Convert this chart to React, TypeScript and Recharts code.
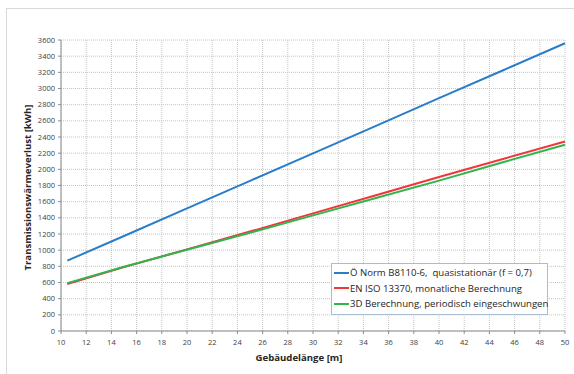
import React from "react";
import { LineChart, Line, XAxis, YAxis, CartesianGrid, Label } from "recharts";

const lengths = [10.5, 15, 20, 25, 30, 35, 40, 45, 50];
const oNorm = [870, 1175, 1517, 1858, 2198, 2538, 2880, 3220, 3560];
const enIso = [580, 790, 1010, 1230, 1455, 1680, 1905, 2125, 2345];
const threeD = [592, 795, 1005, 1215, 1430, 1645, 1860, 2085, 2305];

const xTicks = [10, 12, 14, 16, 18, 20, 22, 24, 26, 28, 30, 32, 34, 36, 38, 40, 42, 44, 46, 48, 50];
const yTicks = [0, 200, 400, 600, 800, 1000, 1200, 1400, 1600, 1800, 2000, 2200, 2400, 2600, 2800, 3000, 3200, 3400, 3600];

const seriesNames = [
  "Ö Norm B8110-6,  quasistationär (f = 0,7)",
  "EN ISO 13370, monatliche Berechnung",
  "3D Berechnung, periodisch eingeschwungen",
];
const seriesColors = ["#2a7dc9", "#f2353b", "#30b54c"];

const xTitle = "Gebäudelänge [m]";
const yTitle = "Transmissionswärmeverlust [kWh]";

const data = lengths.map((l, i) => ({ l, a: oNorm[i], b: enIso[i], c: threeD[i] }));

const font = "'Open Sans', 'Noto Sans', sans-serif";

const LegendBox = () => (
  <div
    style={{
      position: "absolute",
      left: 331,
      top: 263,
      border: "1px solid #a9bcd6",
      background: "#fff",
      padding: "1px 2px 2px 2px",
      fontFamily: font,
      fontSize: 9.6,
      color: "#262626",
      width: 217,
      boxSizing: "border-box",
    }}
  >
    {seriesNames.map((n, i) => (
      <div key={n} style={{ display: "flex", alignItems: "center", height: 15.5, whiteSpace: "pre" }}>
        <svg width={15} height={4} style={{ marginRight: 1, flex: "none" }}>
          <line x1={0} y1={2} x2={15} y2={2} stroke={seriesColors[i]} strokeWidth={2} />
        </svg>
        <span>{n}</span>
      </div>
    ))}
  </div>
);

export default function App() {
  return (
    <div style={{ position: "absolute", left: 0, top: 0, width: 574, height: 374, overflow: "hidden", background: "#fff" }}>
      <div
        style={{
          position: "absolute",
          left: 6,
          top: 8,
          width: 700,
          height: 500,
          border: "1px solid #d9d9d9",
        }}
      />
      <div style={{ position: "absolute", left: 0, top: 0 }}>
        <LineChart width={574} height={374} data={data} margin={{ top: 40, right: 9, bottom: 11, left: 16 }}>
          <CartesianGrid stroke="#c4c4c4" strokeDasharray="1 1" />
          <XAxis
            dataKey="l"
            type="number"
            domain={[10, 50]}
            ticks={xTicks}
            interval={0}
            height={32}
            tickSize={3}
            tickMargin={6}
            stroke="#8c8c8c"
            tick={{ fontSize: 7.5, fill: "#404040", fontFamily: font }}
          >
            <Label
              content={(p: any) => {
                const vb = p.viewBox;
                return (
                  <text
                    x={vb.x + vb.width / 2 - 14}
                    y={vb.y + 30}
                    textAnchor="middle"
                    fontSize={9.6}
                    fontWeight="bold"
                    fontFamily={font}
                    fill="#262626"
                  >
                    {xTitle}
                  </text>
                );
              }}
            />
          </XAxis>
          <YAxis
            type="number"
            domain={[0, 3600]}
            ticks={yTicks}
            interval={0}
            width={45}
            tickSize={3}
            tickMargin={3}
            stroke="#8c8c8c"
            tick={{ fontSize: 7.5, fill: "#404040", fontFamily: font }}
          >
            <Label
              content={(p: any) => {
                const vb = p.viewBox;
                const cx = vb.x + 11;
                const cy = vb.y + vb.height / 2 + 2;
                return (
                  <text
                    x={cx}
                    y={cy}
                    transform={`rotate(-90 ${cx} ${cy})`}
                    textAnchor="middle"
                    dominantBaseline="central"
                    fontSize={9.6}
                    fontWeight="bold"
                    fontFamily={font}
                    fill="#262626"
                  >
                    {yTitle}
                  </text>
                );
              }}
            />
          </YAxis>
          <Line dataKey="a" name={seriesNames[0]} stroke={seriesColors[0]} strokeWidth={2} dot={false} isAnimationActive={false} />
          <Line dataKey="b" name={seriesNames[1]} stroke={seriesColors[1]} strokeWidth={2} dot={false} isAnimationActive={false} />
          <Line dataKey="c" name={seriesNames[2]} stroke={seriesColors[2]} strokeWidth={2} dot={false} isAnimationActive={false} />
        </LineChart>
      </div>
      <LegendBox />
    </div>
  );
}
